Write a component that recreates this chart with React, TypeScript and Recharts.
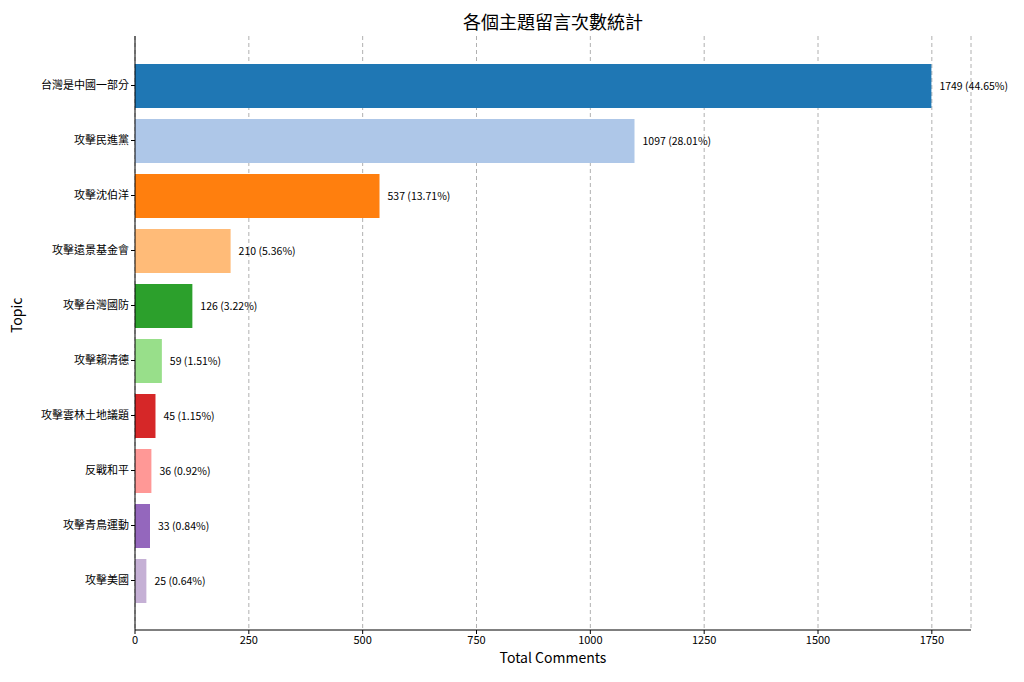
import React from "react";
import { BarChart, Bar, XAxis, YAxis, CartesianGrid, Cell, LabelList, Label } from "recharts";

const topics = ["台灣是中國一部分", "攻擊民進黨", "攻擊沈伯洋", "攻擊遠景基金會", "攻擊台灣國防", "攻擊賴清德", "攻擊雲林土地議題", "反戰和平", "攻擊青鳥運動", "攻擊美國"];
const counts = [1749, 1097, 537, 210, 126, 59, 45, 36, 33, 25];
const colors = ["#1f77b4", "#aec7e8", "#ff7f0e", "#ffbb78", "#2ca02c", "#98df8a", "#d62728", "#ff9896", "#9467bd", "#c5b0d5"];
const xTicks = [0, 250, 500, 750, 1000, 1250, 1500, 1750];

const total = counts.reduce((a, b) => a + b, 0);
const data = topics.map((t, i) => ({
  topic: t,
  count: counts[i],
  text: `${counts[i]} (${((counts[i] / total) * 100).toFixed(2)}%)`,
}));

const font = "'Noto Sans CJK TC', 'Noto Sans', sans-serif";

// plain text label so it never wraps
const ValueLabel = (props: any) => {
  const { x, y, width, height, value } = props;
  return (
    <text x={x + width + 8} y={y + height / 2} dy={4} fontSize={10.5} fill="#000" fontFamily={font}>
      {value}
    </text>
  );
};

export default function App() {
  return (
    <div style={{ position: "absolute", left: 0, top: 0, width: 1024, height: 682, background: "#fff", fontFamily: font }}>
      <div style={{ position: "absolute", top: 8, width: 1024, left: 41, textAlign: "center", fontSize: 18, color: "#000" }}>
        各個主題留言次數統計
      </div>
      <BarChart
        width={1024}
        height={682}
        data={data}
        layout="vertical"
        margin={{ top: 36, right: 53, left: 0, bottom: 22 }}
      >
        <CartesianGrid horizontal={false} strokeDasharray="4 3" stroke="#b0b0b0" />
        <XAxis
          type="number"
          domain={[0, 1836]}
          ticks={xTicks}
          height={30}
          tick={{ fontSize: 11, fill: "#000", fontFamily: font }}
          tickLine={{ stroke: "#000" }}
          axisLine={{ stroke: "#000" }}
          tickSize={4}
        >
          <Label value="Total Comments" position="insideBottom" dy={8} fontSize={14} fill="#000" fontFamily={font} />
        </XAxis>
        <XAxis xAxisId="top" orientation="top" type="number" domain={[0, 1836]} height={0} tick={false} tickLine={false} axisLine={{ stroke: "#000" }} />
        <YAxis
          type="category"
          dataKey="topic"
          width={135}
          padding={{ top: 22, bottom: 22 }}
          tick={{ fontSize: 11, fill: "#000", fontFamily: font }}
          tickLine={{ stroke: "#000" }}
          axisLine={{ stroke: "#000" }}
          tickSize={4}
          interval={0}
        >
          <Label value="Topic" angle={-90} position="insideLeft" dx={12} fontSize={14} fill="#000" fontFamily={font} />
        </YAxis>
        <YAxis yAxisId="right" orientation="right" type="category" dataKey="topic" width={0} tick={false} tickLine={false} axisLine={{ stroke: "#000" }} />
        <Bar dataKey="count" barSize={44} isAnimationActive={false}>
          {data.map((_, i) => (
            <Cell key={`c-${i}`} fill={colors[i]} />
          ))}
          <LabelList dataKey="text" content={<ValueLabel />} />
        </Bar>
      </BarChart>
    </div>
  );
}
